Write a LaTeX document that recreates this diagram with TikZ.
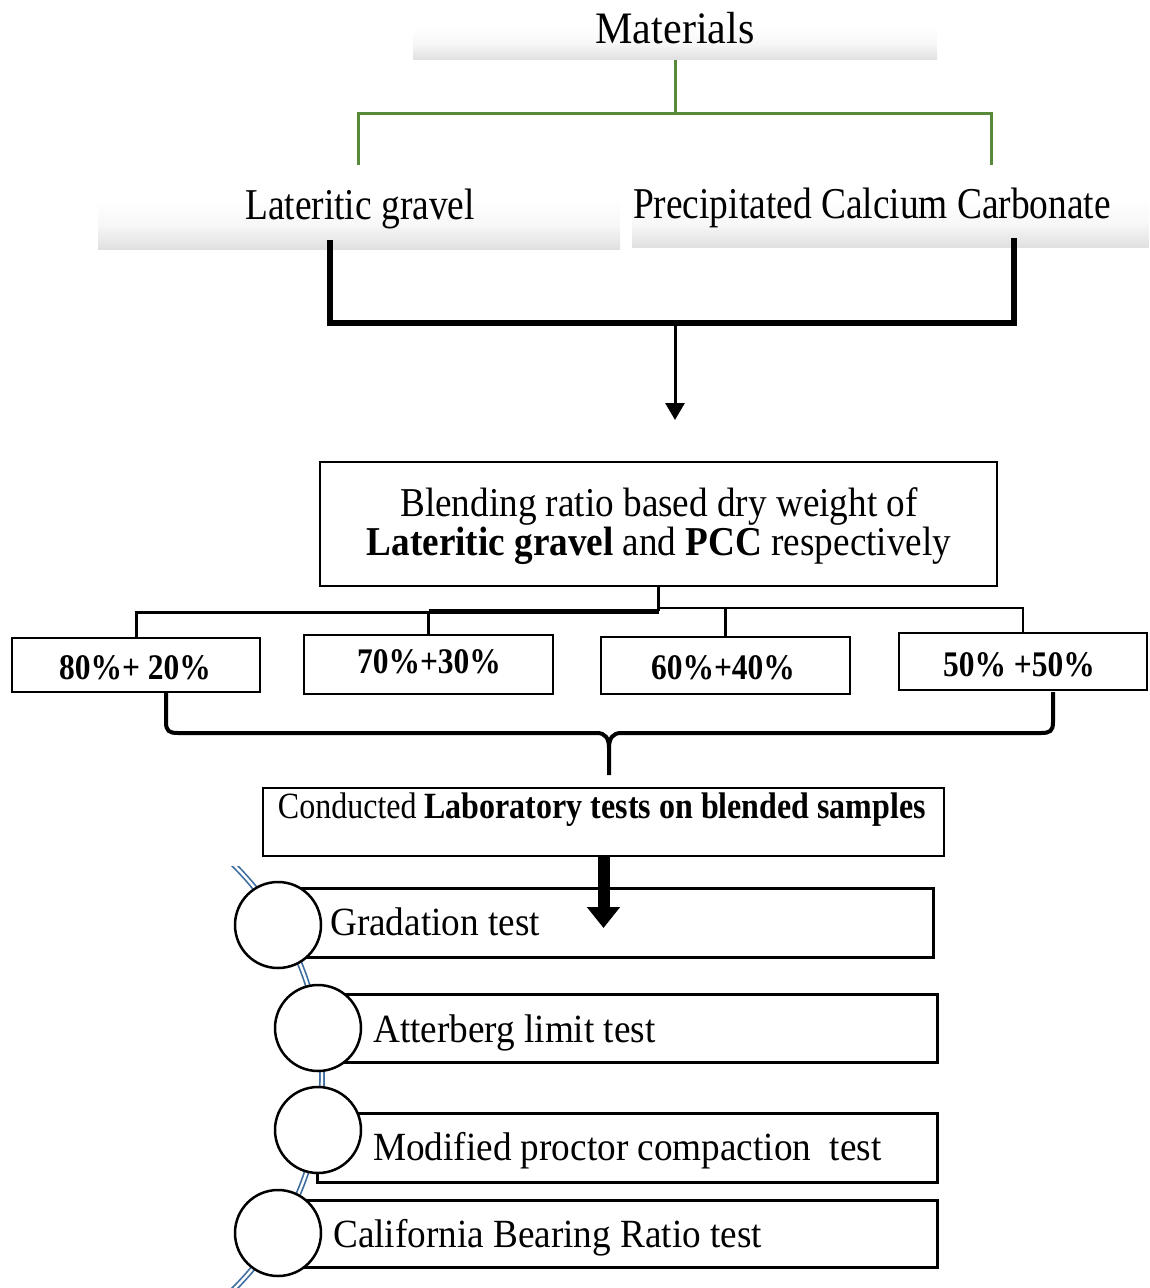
\documentclass[tikz,border=0pt]{standalone}
\usepackage{fontspec}
\setmainfont{Liberation Serif}
\usepackage{graphicx}
\usetikzlibrary{arrows.meta}
\definecolor{grn}{RGB}{88,138,58}
\definecolor{blu}{RGB}{62,110,160}
\newcommand{\sx}[2]{\scalebox{#1}[1]{#2}}
\begin{document}
\begin{tikzpicture}[x=1pt,y=-1pt,
  shbox/.style={rectangle, draw=none, top color=white, bottom color=black!12, middle color=black!3, inner sep=0pt},
  lbl/.style={inner sep=0pt, anchor=base},
  bx/.style={rectangle, draw=black, fill=white, inner sep=0pt, line width=2.5pt},
  tbx/.style={rectangle, draw=black, fill=white, inner sep=0pt, line width=3pt},
  circ/.style={circle, draw=black, fill=white, inner sep=0pt, minimum size=86pt, line width=2.5pt},
  gline/.style={draw=grn, line width=3pt},
  kline/.style={draw=black, line width=6pt},
  big/.style={font=\fontsize{44}{50}\selectfont},
  testfont/.style={font=\fontsize{40}{44}\selectfont},
  pctfont/.style={font=\fontsize{36}{40}\selectfont\bfseries}
]
\useasboundingbox (0,0) rectangle (1149,1288);

% shaded title boxes
\node[shbox, minimum width=524pt, minimum height=33pt] (matbox) at (675,43) {};
\node[shbox, minimum width=522pt, minimum height=49pt] (latbox) at (359,224.5) {};
\node[shbox, minimum width=517pt, minimum height=47pt] (pccbox) at (890.5,223.5) {};

\node[lbl, font=\fontsize{45}{50}\selectfont] (mat) at (675,43) {\sx{0.935}{Materials}};
\node[lbl, big] (lat) at (360,219) {\sx{0.85}{Lateritic gravel}};
\node[lbl, big] (pcc) at (872,218) {\sx{0.85}{Precipitated Calcium Carbonate}};

% green connectors
\coordinate (gj) at (675,113);
\coordinate (gl) at (358,165);
\coordinate (gr) at (991,165);
\draw[gline] (matbox.south) -- (gj);
\draw[gline] (gl) -- (gl |- gj) -- (gr |- gj) -- (gr);

% black merge
\coordinate (kl) at (330,240);
\coordinate (kr) at (1014,238);
\coordinate (kj) at (675,323);
\coordinate (ka) at (675,420);
\draw[kline] (kl) |- (kj) -| (kr);
\draw[line width=3pt, -{Triangle[width=19pt,length=17pt]}] (kj) -- (ka);

% blending box
\node[bx, line width=2pt, minimum width=677pt, minimum height=124pt] (blend) at (658.5,524) {};
\node[lbl, font=\fontsize{41}{46}\selectfont] (bl1) at (659,516) {\sx{0.907}{Blending ratio based dry weight of}};
\node[lbl, font=\fontsize{41}{46}\selectfont] (bl2) at (659,555) {\sx{0.907}{\textbf{Lateritic gravel} and \textbf{PCC} respectively}};

% percentage boxes
\node[bx, minimum width=248pt, minimum height=54pt] (p1) at (136,665) {};
\node[bx, minimum width=249pt, minimum height=59pt] (p2) at (428.5,664.5) {};
\node[bx, minimum width=249pt, minimum height=57pt] (p3) at (725.5,665.5) {};
\node[bx, minimum width=248pt, minimum height=57pt] (p4) at (1023,661.5) {};
\node[lbl, pctfont] (p1t) at (135,679) {\sx{0.875}{80\%+ 20\%}};
\node[lbl, pctfont] (p2t) at (429,673) {\sx{0.875}{70\%+30\%}};
\node[lbl, pctfont] (p3t) at (723,679) {\sx{0.875}{60\%+40\%}};
\node[lbl, pctfont] (p4t) at (1019,676) {\sx{0.875}{50\% +50\%}};

% tree
\coordinate (tj) at (658.5,611);
\draw[line width=2.5pt] (blend.south) -- (tj);
\draw[line width=3pt] (p1.north) |- (428.5,612);
\draw[line width=2.5pt] (p2.north) -- (428.5,611);
\draw[line width=5pt] (428.5,611) -- (tj);
\draw[line width=2.5pt] (657.5,608) -| (p4.north);
\draw[line width=2.5pt] (p3.north) -- (725.5,608);

% brace
\coordinate (bl) at (166,692);
\coordinate (br) at (1053,692);
\coordinate (bt) at (609,775);
\draw[line width=4pt] (bl) -- (166,722) .. controls (166,731) and (169,733) .. (178,733) -- (597,733) .. controls (605,733) and (609,738) .. (609,748) -- (bt);
\draw[line width=4pt] (609,748) .. controls (609,738) and (613,733) .. (621,733) -- (1041,733) .. controls (1050,733) and (1053,731) .. (1053,722) -- (br);

% conducted box
\node[bx, line width=1.8pt, minimum width=681pt, minimum height=68pt] (cond) at (603.5,822) {};
\node[lbl, font=\fontsize{37}{40}\selectfont] (condt) at (602,818) {\sx{0.865}{Conducted \textbf{Laboratory tests on blended samples}}};

% blue arc
\begin{scope}
\clip (150,866) rectangle (420,1288);
\draw[draw=blu, line width=1.7pt, double=white, double distance=2.4pt] (22.6,1077) circle[radius=299.4pt];
\end{scope}

% test boxes
\node[tbx, minimum width=633pt, minimum height=69pt] (r1) at (616.5,922.5) {};
\node[tbx, minimum width=607pt, minimum height=68pt] (r2) at (633.5,1028) {};
\node[tbx, minimum width=620pt, minimum height=69pt] (r3) at (627,1147.5) {};
\node[tbx, minimum width=637pt, minimum height=67pt] (r4) at (618.5,1233.5) {};

\node[circ] (c1) at (278,925) {};
\node[circ] (c2) at (318,1028) {};
\node[circ] (c3) at (318,1130) {};
\node[circ] (c4) at (278,1233) {};

% thick arrow
\coordinate (ca) at (603.5,928);
\draw[line width=12pt, -{Triangle[width=32pt,length=21pt]}] (cond.south) -- (ca);

\node[lbl, anchor=base west, testfont] (t1) at (330,935) {\sx{0.93}{Gradation test}};
\node[lbl, anchor=base west, testfont] (t2) at (373,1042) {\sx{0.93}{Atterberg limit test}};
\node[lbl, anchor=base west, testfont] (t3) at (373,1160) {\sx{0.93}{Modified proctor compaction\ \ test}};
\node[lbl, anchor=base west, testfont] (t4) at (333,1247) {\sx{0.93}{California Bearing Ratio test}};
\end{tikzpicture}
\end{document}
